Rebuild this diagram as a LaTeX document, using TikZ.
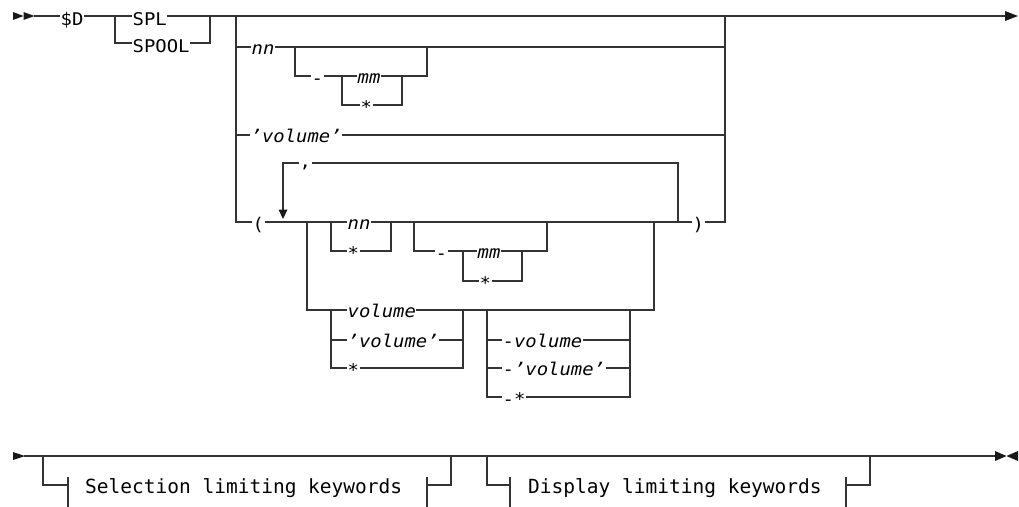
\documentclass[tikz,border=0pt]{standalone}
\usepackage{fontspec}
\newfontfamily\rrfont[FakeStretch=1.08]{DejaVu Sans Mono}
\newfontfamily\kwfont{DejaVu Sans Mono}
\tikzset{
  track/.style={line width=1.3pt, draw=black!80, line join=miter, line cap=rect},
  tip/.style={fill=black!90, draw=none},
  lbl/.style={font={\rrfont\fontsize{17.5}{20}\selectfont}, inner sep=0pt, inner xsep=0.5pt,
              anchor=base west, fill=white, text height=13pt, text depth=4pt},
  ilbl/.style={lbl, font={\rrfont\itshape\fontsize{17.5}{20}\selectfont}},
  kw/.style={font={\kwfont\fontsize{19.5}{22}\selectfont}, inner sep=0pt, anchor=base west}
}
\begin{document}
\begin{tikzpicture}[x=1pt,y=-1pt]
\useasboundingbox (0,0) rectangle (1019,506);
% ---------- upper diagram: tracks ----------
\draw[track] (35,16) -- (1005,16);
\draw[track] (115,16) -- (115,43) -- (210,43) -- (210,16);
\draw[track] (236,16) -- (236,222) -- (725,222) -- (725,16);
\draw[track] (236,47) -- (725,47);
\draw[track] (295,47) -- (295,76) -- (427,76) -- (427,47);
\draw[track] (342,76) -- (342,105) -- (402,105) -- (402,76);
\draw[track] (236,135) -- (725,135);
% repeat loop
\draw[track] (283,210) -- (283,163) -- (678,163) -- (678,222);
\fill[tip] (278.5,209.5) -- (287.5,209.5) -- (283,219) -- cycle;
% inside parentheses
\draw[track] (331,222) -- (331,251) -- (391,251) -- (391,222);
\draw[track] (414,222) -- (414,251) -- (547,251) -- (547,222);
\draw[track] (463,251) -- (463,281) -- (522,281) -- (522,251);
\draw[track] (307,222) -- (307,310) -- (654,310) -- (654,222);
\draw[track] (331,310) -- (331,368) -- (463,368) -- (463,310);
\draw[track] (331,340) -- (463,340);
\draw[track] (487,310) -- (487,397) -- (630,397) -- (630,310);
\draw[track] (487,340) -- (630,340);
\draw[track] (487,368) -- (630,368);
% arrow heads
\fill[tip] (13,12) -- (23.5,16) -- (13,20) -- cycle;
\fill[tip] (23.5,12) -- (34.5,16) -- (23.5,20) -- cycle;
\fill[tip] (1005,11) -- (1018,16) -- (1005,21) -- cycle;
% ---------- upper diagram: labels ----------
\node[lbl]  (d)    at (60,25)  {\$D};
\node[lbl]  (spl)  at (132,25) {SPL};
\node[lbl]  (spool)at (132,52) {SPOOL};
\node[ilbl] (nn1)  at (251,54) {nn};
\node[lbl]  (dash1)at (311,84) {-};
\node[ilbl] (mm1)  at (357,83) {mm};
\node[lbl]  (st1)  at (360,113){*};
\node[ilbl] (vq1)  at (250,142){’volume’\hspace{6pt}};
\node[lbl]  (comma)at (299,167){,};
\node[lbl]  (lp)   at (252,230){(};
\node[ilbl] (nn2)  at (347,229){nn};
\node[lbl]  (st2)  at (347,259){*};
\node[lbl]  (dash2)at (435,259){-};
\node[ilbl] (mm2)  at (477,258){mm};
\node[lbl]  (st3)  at (479,289){*};
\node[lbl]  (rp)   at (692,230){)};
\node[ilbl] (v1)   at (347,317){volume};
\node[ilbl] (vq2)  at (347,347){’volume’\hspace{5pt}};
\node[lbl]  (st4)  at (347,376){*};
\node[ilbl] (v2)   at (502,347){{\upshape-}volume};
\node[ilbl] (vq3)  at (502,375){{\upshape-}’volume’\hspace{5pt}};
\node[lbl]  (st5)  at (502,405){-*};
% ---------- lower diagram ----------
\fill[tip] (13,452) -- (25,456) -- (13,460) -- cycle;
\draw[track] (25,456) -- (995,456);
\draw[track] (43,456) -- (43,485) -- (68,485);
\draw[track] (68,478) -- (68,507);
\node[kw] (sel) at (85,493) {Selection limiting keywords};
\draw[track] (427,478) -- (427,507);
\draw[track] (427,485) -- (451,485) -- (451,456);
\draw[track] (487,456) -- (487,485) -- (510,485);
\draw[track] (510,478) -- (510,507);
\node[kw] (dis) at (528,493) {Display limiting keywords};
\draw[track] (846,478) -- (846,507);
\draw[track] (846,485) -- (870,485) -- (870,456);
\fill[tip] (995,451) -- (1006.5,456) -- (995,461) -- cycle;
\fill[tip] (1018,451) -- (1006.5,456) -- (1018,461) -- cycle;
\end{tikzpicture}
\end{document}
